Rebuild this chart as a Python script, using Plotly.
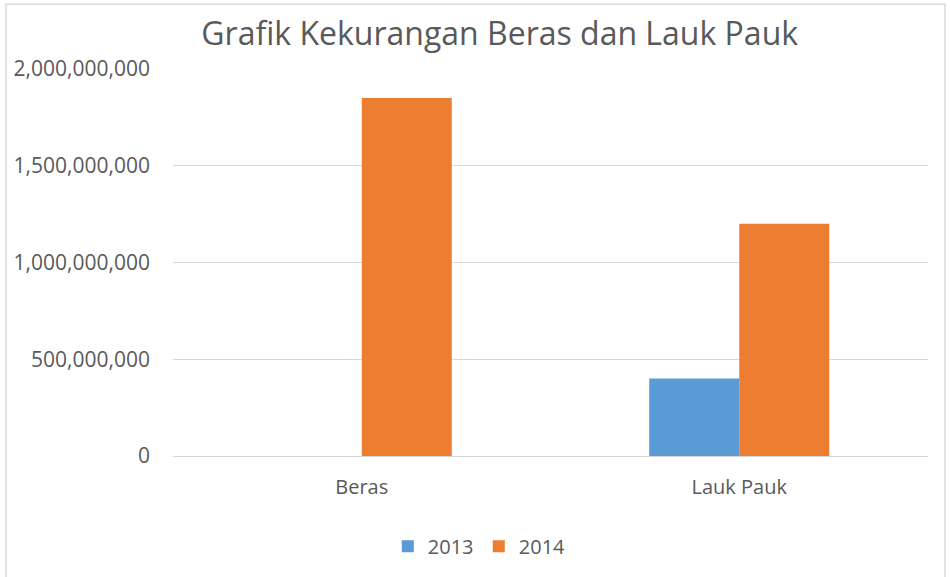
import plotly.graph_objects as go

categories = ["Beras", "Lauk Pauk"]
series_names = ["2013", "2014"]
values_2013 = [0, 400000000]
values_2014 = [1850000000, 1200000000]
colors = ["#5B9BD5", "#ED7D31"]
y_ticks = [0, 500000000, 1000000000, 1500000000, 2000000000]
y_tick_labels = ["0", "500,000,000", "1,000,000,000", "1,500,000,000", "2,000,000,000"]

font_family = "Open Sans, DejaVu Sans, sans-serif"
text_color = "#595959"

fig = go.Figure()
for name, vals, col in zip(series_names, [values_2013, values_2014], colors):
    fig.add_trace(go.Bar(name=name, x=categories, y=vals, marker=dict(color=col, line=dict(width=0))))

fig.update_layout(
    width=950, height=577,
    margin=dict(l=173, r=22, t=69, b=120),
    paper_bgcolor="white", plot_bgcolor="white",
    barmode="group", bargap=0.523, bargroupgap=0,
    font=dict(family=font_family, color=text_color, size=20),
    title=dict(text="Grafik Kekurangan Beras dan Lauk Pauk", x=0.526, xanchor="center",
               y=0.942, yanchor="middle", font=dict(size=32, color=text_color, family=font_family)),
    xaxis=dict(showgrid=False, showline=False, ticks="", tickfont=dict(size=20), ticklabelstandoff=17),
    yaxis=dict(range=[0, 2000000000], tickvals=y_ticks, ticktext=y_tick_labels,
               showgrid=True, gridcolor="#D9D9D9", gridwidth=1.3,
               zeroline=True, zerolinecolor="#D9D9D9", zerolinewidth=1.3,
               showline=False, ticks="", tickfont=dict(size=21), ticklabelstandoff=22),
    legend=dict(orientation="h", x=0.405, xanchor="center", y=-0.23, yanchor="middle",
                font=dict(size=20), itemwidth=30, entrywidth=46, traceorder="normal"),
    shapes=[dict(type="rect", xref="paper", yref="paper", x0=-0.2212, x1=1.0225, y0=-0.33, y1=1.1675,
                 line=dict(color="#D9D9D9", width=1.5), layer="below")],
)

fig.write_html("out.html")
